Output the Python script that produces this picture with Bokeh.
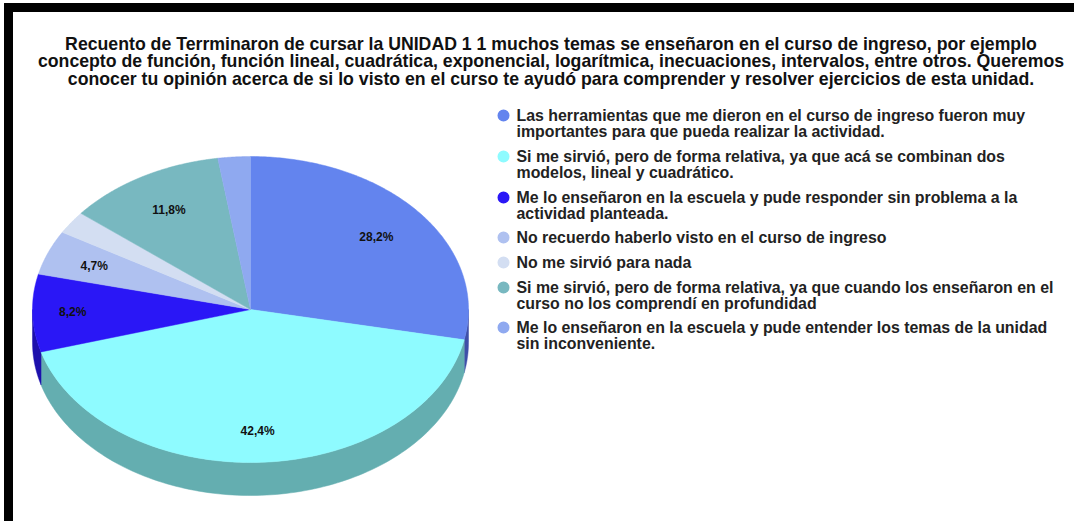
import numpy as np
from bokeh.plotting import figure
from bokeh.models import Range1d
from bokeh.core.properties import value
from bokeh.embed import file_html
from bokeh.resources import INLINE

title_lines = [
    "Recuento de Terrminaron de cursar la UNIDAD 1 1 muchos temas se enseñaron en el curso de ingreso, por ejemplo",
    "concepto de función, función lineal, cuadrática, exponencial, logarítmica, inecuaciones, intervalos, entre otros. Queremos",
    "conocer tu opinión acerca de si lo visto en el curso te ayudó para comprender y resolver ejercicios de esta unidad.",
]
categories = [
    ["Las herramientas que me dieron en el curso de ingreso fueron muy", "importantes para que pueda realizar la actividad."],
    ["Si me sirvió, pero de forma relativa, ya que acá se combinan dos", "modelos, lineal y cuadrático."],
    ["Me lo enseñaron en la escuela y pude responder sin problema a la", "actividad planteada."],
    ["No recuerdo haberlo visto en el curso de ingreso"],
    ["No me sirvió para nada"],
    ["Si me sirvió, pero de forma relativa, ya que cuando los enseñaron en el", "curso no los comprendí en profundidad"],
    ["Me lo enseñaron en la escuela y pude entender los temas de la unidad", "sin inconveniente."],
]
percent = [28.2, 42.4, 8.2, 4.7, 2.4, 11.8, 2.4]
percent_labels = ["28,2%", "42,4%", "8,2%", "4,7%", "", "11,8%", ""]
colors = ["#6384EE", "#8EFBFF", "#2A17F6", "#AFC1F0", "#D3DEF2", "#78B8C0", "#8FA9F0"]
side_colors = ["#3F4FA8", "#64AEB0", "#1D10AC", "#7A88A8", "#9AA2B0", "#55828A", "#6476A8"]

label_radius = [0.746, 0.797, 0.816, 0.772, 0.75, 0.752, 0.75]
legend_marker_y = [115, 156, 197, 237, 262, 287, 327]
legend_line_gap = 16
title_y = [43, 60.5, 78.5]

CX, CY, RX, RY, DEPTH = 250.0, 309.0, 218.0, 153.0, 33.0
FONT = value("Liberation Sans")

p = figure(width=1074, height=521, output_backend="svg", toolbar_location=None,
           x_range=Range1d(0, 1074), y_range=Range1d(521, 0),
           min_border=0, outline_line_color=None)
p.axis.visible = False
p.grid.visible = False

# black frame of the screenshot
p.quad(left=[4, 4], right=[1074, 12], top=[3, 3], bottom=[11, 521], color="#000000")


def ellipse_pt(a):
    return CX + RX * np.sin(a), CY - RY * np.cos(a)


total = sum(percent)
edges = np.radians(np.concatenate([[0], np.cumsum(percent)]) / total * 360)

# side wall
for i, col in enumerate(side_colors):
    a0, a1 = max(edges[i], np.pi / 2), min(edges[i + 1], 3 * np.pi / 2)
    if a1 <= a0:
        continue
    t = np.linspace(a0, a1, 120)
    x, y = ellipse_pt(t)
    p.patch(np.r_[x, x[::-1]], np.r_[y, y[::-1] + DEPTH], fill_color=col, line_color=col, line_width=0.5)

# top face
for i, col in enumerate(colors):
    t = np.linspace(edges[i], edges[i + 1], 160)
    x, y = ellipse_pt(t)
    p.patch(np.r_[CX, x], np.r_[CY, y], fill_color=col, line_color=col, line_width=0.5)

# value labels
mids = (edges[:-1] + edges[1:]) / 2
lx = CX + RX * np.sin(mids) * np.array(label_radius)
ly = CY - RY * np.cos(mids) * np.array(label_radius)
for x, y, s in zip(lx, ly, percent_labels):
    if s:
        p.text([x], [y], text=[s], text_font=FONT, text_font_style="bold", text_font_size="12px",
               text_color="#111111", text_align="center", text_baseline="middle")

# title
for y, s in zip(title_y, title_lines):
    p.text([550.5], [y], text=[s], text_font=FONT, text_font_style="bold", text_font_size="17.7px",
           text_color="#111111", text_align="center", text_baseline="middle")

# legend
for y, col, lines in zip(legend_marker_y, colors, categories):
    p.scatter([503], [y], size=12, marker="circle", fill_color=col, line_color=None)
    for k, s in enumerate(lines):
        p.text([516], [y + k * legend_line_gap], text=[s], text_font=FONT, text_font_style="bold",
               text_font_size="15.9px", text_color="#222222", text_align="left", text_baseline="middle")

open("out.html", "w").write(file_html(p, INLINE))
